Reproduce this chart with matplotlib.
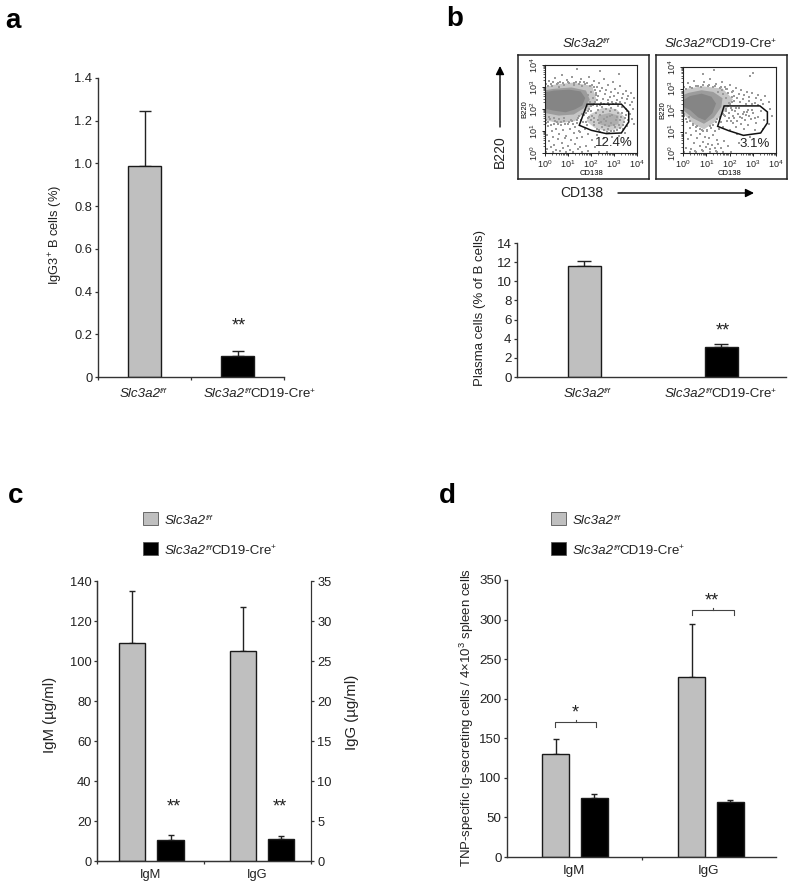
import matplotlib
matplotlib.use("Agg")
import matplotlib.pyplot as plt
from matplotlib.patches import Rectangle, Polygon, FancyArrowPatch
from matplotlib.ticker import NullFormatter, LogLocator

W, H = 800, 892
FONT = "Liberation Sans"
plt.rcParams.update({
    "font.family": FONT, "mathtext.fontset": "custom", "mathtext.rm": FONT,
    "mathtext.it": FONT + ":italic", "mathtext.bf": FONT + ":bold",
    "mathtext.default": "regular", "text.color": "#222222",
    "axes.edgecolor": "#333333", "xtick.color": "#333333", "ytick.color": "#333333",
    "xtick.labelcolor": "#222222", "ytick.labelcolor": "#222222",
})

GRAY, BLACK = "#bfbfbf", "#000000"
WT = [("Slc3a2", 1, "italic", 0), ("f/f", 0.62, "italic", 4)]
KO = WT + [("CD19-Cre", 1, "normal", 0), ("+", 0.62, "normal", 4)]

# Panel a
a_vals = [0.99, 0.10]
a_tops = [1.245, 0.12]
a_ticks = [0, 0.2, 0.4, 0.6, 0.8, 1.0, 1.2, 1.4]
a_ticklabels = ["0", "0.2", "0.4", "0.6", "0.8", "1.0", "1.2", "1.4"]
# Panel b
b_vals = [11.6, 3.1]
b_tops = [12.1, 3.4]
b_ticks = [0, 2, 4, 6, 8, 10, 12, 14]
# Panel c
c_igm_vals = [109, 10.5]
c_igm_tops = [135, 13]
c_igg_vals = [26.2, 2.7]
c_igg_tops = [31.7, 3.1]
c_left_ticks = [0, 20, 40, 60, 80, 100, 120, 140]
c_right_ticks = [0, 5, 10, 15, 20, 25, 30, 35]
# Panel d
d_igm_vals = [130, 74]
d_igm_tops = [149, 80]
d_igg_vals = [228, 70]
d_igg_tops = [295, 72]
d_ticks = [0, 50, 100, 150, 200, 250, 300, 350]
groups = ["IgM", "IgG"]

# Flow plots (log10 units)
wt_gate = [(1.83, 2.22), (3.32, 2.22), (3.64, 1.87), (3.64, 1.41), (3.32, 0.91), (2.67, 0.88), (2.02, 1.03), (1.49, 1.26)]
ko_gate = [(1.77, 2.19), (3.31, 2.19), (3.63, 1.91), (3.63, 1.40), (3.34, 0.93), (2.60, 0.82), (1.96, 1.04), (1.49, 1.24)]
wt_core = [(0.0, 2.02), (0.35, 1.93), (0.9, 1.85), (1.3, 1.98), (1.62, 2.16), (1.75, 2.5), (1.55, 2.8), (1.05, 2.88), (0.4, 2.84), (0.0, 2.76)]
wt_mid = [(0.0, 1.82), (0.6, 1.7), (1.25, 1.75), (1.68, 2.03), (1.95, 2.42), (1.78, 2.84), (1.15, 2.98), (0.4, 2.92), (0.0, 2.85)]
wt_halo = [(0.0, 1.5), (0.6, 1.35), (1.3, 1.45), (1.8, 1.9), (2.25, 2.4), (2.05, 3.05), (1.2, 3.2), (0.4, 3.1), (0.0, 3.0)]
wt_blob = [(1.95, 1.75), (2.5, 2.05), (3.1, 2.0), (3.5, 1.6), (3.35, 1.15), (2.7, 0.98), (2.15, 1.15), (1.8, 1.45)]
wt_blob2 = [(2.3, 1.7), (2.8, 1.82), (3.2, 1.7), (3.2, 1.32), (2.75, 1.18), (2.35, 1.32)]
ko_core = [(0.0, 2.45), (0.3, 2.65), (0.8, 2.76), (1.22, 2.62), (1.42, 2.3), (1.26, 1.85), (0.95, 1.52), (0.66, 1.65), (0.3, 2.0), (0.0, 2.15)]
ko_mid = [(0.0, 2.0), (0.42, 1.62), (0.9, 1.36), (1.32, 1.64), (1.65, 2.15), (1.7, 2.55), (1.3, 2.84), (0.8, 2.92), (0.25, 2.8), (0.0, 2.7)]
ko_halo = [(0.0, 1.85), (0.45, 1.35), (0.9, 1.1), (1.35, 1.42), (1.85, 2.0), (2.15, 2.5), (1.7, 3.0), (0.85, 3.1), (0.2, 3.0), (0.0, 2.88)]

wt_dots = [
 (0.05,3.12),(0.18,3.28),(0.31,3.05),(0.44,3.41),(0.52,3.14),(0.67,3.22),(0.74,3.56),(0.83,3.09),(0.96,3.31),(1.04,3.18),
 (1.17,3.44),(1.26,3.07),(1.33,3.25),(1.48,3.12),(1.55,3.38),(1.62,3.04),(1.71,3.21),(1.83,3.16),(1.92,3.47),(2.03,3.08),
 (2.11,3.29),(2.24,3.02),(2.36,3.17),(2.48,2.94),(2.55,3.36),(2.66,2.88),(2.73,3.07),(2.85,2.79),(2.94,3.22),(3.06,2.91),
 (3.17,2.72),(3.28,3.03),(3.41,2.66),(3.52,2.84),(3.63,2.57),(3.74,2.75),(3.86,2.49),(3.22,3.58),(2.41,3.72),(1.38,3.81),
 (2.22,2.73),(2.31,2.58),(2.39,2.81),(2.52,2.46),(2.61,2.67),(2.72,2.39),(2.81,2.55),(2.93,2.34),(3.02,2.61),(3.13,2.42),
 (3.24,2.31),(3.36,2.52),(3.47,2.29),(3.58,2.44),(3.69,2.18),(3.77,2.33),(3.83,2.02),(3.71,1.78),(3.79,1.55),(3.88,1.33),
 (2.08,2.18),(2.18,2.34),(2.27,2.12),(2.42,2.28),(2.58,2.24),(2.77,2.16),(2.97,2.21),(3.18,2.14),(3.33,2.09),(3.51,1.99),
 (1.92,1.64),(2.02,1.93),(2.13,1.57),(2.21,1.82),(2.33,1.36),(2.38,1.71),(2.47,1.18),(2.52,1.88),(2.61,1.29),(2.68,1.63),
 (2.74,1.11),(2.82,1.91),(2.88,1.38),(2.93,1.72),(3.04,1.16),(3.09,1.52),(3.16,1.84),(3.23,1.27),(3.31,1.62),(3.38,1.07),
 (3.44,1.43),(3.52,1.74),(3.57,1.21),(1.66,1.42),(1.72,1.11),(1.81,1.27),(2.24,1.08),(2.41,0.96),(2.78,0.92),(3.02,0.98),
 (3.21,0.79),(2.92,0.72),(2.58,0.66),(2.26,0.81),(2.03,0.61),(1.86,0.86),(1.63,0.73),(1.47,1.02),(3.46,0.91),(3.63,0.68),
 (0.04,1.48),(0.13,1.22),(0.22,1.53),(0.29,0.98),(0.37,1.34),(0.46,1.11),(0.51,1.42),(0.62,0.87),(0.69,1.26),(0.77,1.03),
 (0.84,1.47),(0.93,0.79),(1.01,1.31),(1.08,1.09),(1.16,1.44),(1.24,0.92),(1.31,1.19),(1.41,1.37),(1.53,0.96),(1.58,1.52),
 (0.09,0.82),(0.19,0.53),(0.34,0.71),(0.41,0.38),(0.57,0.62),(0.72,0.46),(0.88,0.69),(0.98,0.33),(1.13,0.58),(1.29,0.41),
 (1.37,0.67),(1.51,0.28),(0.08,0.19),(0.27,0.26),(0.48,0.14),(0.79,0.21),(1.07,0.12),(1.44,0.17),(1.77,0.34),(2.16,0.29),
 (0.06,0.06),(0.33,0.05),(0.64,0.07),(0.91,0.05),(1.22,0.06),(1.61,0.05),(1.89,0.07),(2.34,0.05),(2.71,0.06),
 (1.84,2.13),(1.97,2.31),(1.88,2.62),(2.01,2.79),(2.09,2.51),(2.17,2.88),(1.79,1.83),(1.69,1.71),(1.93,2.02),(2.06,1.68),
 (0.03,1.38),(0.11,1.41),(0.27,1.29),(0.43,1.47),(0.58,1.31),(0.71,1.43),(0.89,1.34),(1.06,1.4),(1.23,1.31),(1.39,1.49),
 (1.49,1.66),(1.61,1.78),(1.73,1.96),(1.86,1.92),(2.02,2.12),(2.13,2.22),(2.28,2.41),(2.2,2.62),(2.12,2.98),(1.96,3.04),
 (1.74,3.12),(1.51,3.22),(1.27,3.19),(1.02,3.23),(0.79,3.2),(0.55,3.17),(0.24,3.14),(0.12,3.04),(0.33,3.21),(0.63,3.02),
 (2.14,1.26),(2.29,1.49),(2.44,1.42),(2.56,1.56),(2.67,1.44),(2.79,1.22),(2.84,1.7),(2.99,1.29),(3.11,1.63),(3.27,1.48),
 (3.36,1.82),(3.41,1.29),(3.48,1.57),(3.55,1.92),(3.61,1.49),(2.31,1.96),(2.49,2.08),(2.64,2.02),(2.88,2.06),(3.06,1.96),
 (2.12,1.41),(1.99,1.49),(1.87,1.57),(1.77,1.41),(2.36,1.04),(2.55,1.06),(2.69,0.97),(2.86,1.01),(3.13,1.03),(3.27,1.14),
 (1.43,1.58),(1.12,1.51),(0.82,1.58),(0.61,1.54),(0.38,1.57),(0.17,1.63),(0.02,1.71),(2.37,2.17),(2.73,2.29),(3.09,2.27),
]
ko_dots = [
 (0.06,3.08),(0.21,3.24),(0.38,3.02),(0.49,3.37),(0.63,3.13),(0.78,3.05),(0.92,3.28),(1.07,3.11),(1.18,3.42),(1.31,3.07),
 (1.44,3.19),(1.57,3.03),(1.68,3.31),(1.79,3.09),(1.91,2.96),(2.04,3.18),(2.16,2.87),(2.27,3.04),(2.39,2.74),(2.51,2.92),
 (2.63,2.68),(2.74,2.83),(2.86,2.61),(2.97,2.79),(3.12,2.54),(3.24,2.72),(3.37,2.47),(3.52,2.63),(3.68,2.38),(3.03,3.71),
 (2.88,3.56),(1.33,3.84),(0.86,3.66),(2.09,2.61),(2.21,2.44),(2.33,2.57),(2.46,2.36),(2.58,2.49),(2.71,2.28),(2.83,2.41),
 (2.95,2.26),(3.08,2.33),(3.21,2.24),(3.44,2.29),(3.76,2.06),(3.81,1.74),(3.72,1.33),
 (1.85,2.03),(1.97,1.86),(2.05,2.11),(2.13,1.72),(2.24,1.96),(2.36,1.81),(2.42,2.07),(2.53,1.64),(2.61,1.93),(2.72,1.77),
 (2.81,2.02),(2.92,1.58),(3.01,1.84),(3.14,1.41),(3.23,1.69),(3.36,1.94),(3.47,1.52),(2.17,1.38),(2.29,1.21),(2.48,1.33),
 (2.64,1.13),(2.79,1.28),(1.88,1.47),(1.73,1.22),(1.64,1.44),(2.02,1.09),(3.09,1.07),(3.42,1.11),(2.34,0.87),(2.88,0.74),
 (0.05,1.71),(0.16,1.42),(0.25,1.68),(0.32,1.18),(0.41,1.36),(0.54,1.02),(0.61,1.24),(0.73,0.87),(0.82,1.09),(0.96,0.76),
 (1.03,1.02),(1.12,0.68),(1.21,1.17),(1.29,0.84),(1.38,1.03),(1.46,0.59),(1.53,1.13),(0.12,0.91),(0.23,0.64),(0.36,0.83),
 (0.47,0.47),(0.59,0.71),(0.71,0.33),(0.88,0.52),(0.99,0.27),(1.09,0.44),(1.17,0.18),(1.26,0.37),(1.36,0.24),(1.52,0.41),
 (1.63,0.21),(1.77,0.58),(0.14,0.24),(0.33,0.17),(0.52,0.11),(0.81,0.13),(1.42,0.09),(1.93,0.31),(2.41,0.46),
 (0.03,0.05),(0.28,0.06),(0.57,0.05),(0.86,0.07),(1.14,0.05),(1.45,0.06),(1.72,0.05),(2.08,0.06),(0.01,0.36),(0.01,0.74),
 (1.72,2.74),(1.84,2.58),(1.95,2.77),(1.67,2.91),(1.49,2.86),(1.99,2.32),(1.76,1.78),(1.61,1.69),(1.47,1.57),(1.92,2.18),
 (0.03,1.82),(0.12,1.58),(0.28,1.49),(0.44,1.31),(0.57,1.22),(0.71,1.12),(0.88,1.03),(1.02,1.09),(1.14,1.26),(1.27,1.31),
 (1.41,1.44),(1.57,1.62),(1.71,1.83),(1.87,1.94),(2.01,2.26),(2.12,2.36),(2.21,2.63),(2.09,2.82),(1.87,2.96),(1.62,3.06),
 (1.37,3.13),(1.12,3.16),(0.84,3.15),(0.56,3.11),(0.29,3.06),(0.11,2.99),(1.98,1.62),(2.08,1.51),(2.19,1.62),(2.31,1.49),
 (2.44,1.67),(2.57,1.81),(2.68,1.52),(2.77,1.91),(2.85,1.71),(2.97,2.01),(3.09,1.62),(1.82,1.72),(2.12,1.98),(2.27,2.09),
]


def px_axes(left, top, right, bottom, **kw):
    return fig.add_axes([left / W, 1 - bottom / H, (right - left) / W, (bottom - top) / H], **kw)


def ftext(x, y, s, **kw):
    kw.setdefault("ha", "center")
    kw.setdefault("va", "center")
    return fig.text(x / W, 1 - y / H, s, **kw)


def rich(x, baseline, parts, size=9.6, ha="center"):
    """Lay out text runs left to right with a small raised superscript."""
    renderer = fig.canvas.get_renderer()
    arts = []
    for s, scale, style, rise in parts:
        t = fig.text(0, 1 - (baseline - rise) / H, s, fontsize=size * scale, fontstyle=style,
                     ha="left", va="baseline", color="#222222")
        arts.append(t)
    widths = [a.get_window_extent(renderer).width - 0.8 for a in arts]
    cur = x - sum(widths) / 2 if ha == "center" else x
    for a, w in zip(arts, widths):
        a.set_x(cur / W)
        cur += w


def style_bar_axes(ax, yticks, ylim, ylabels=None, labels=(), fs=9.3, xticks=(-0.5, 0.5, 1.5)):
    for s in ("top", "right"):
        ax.spines[s].set_visible(False)
    for s in ("left", "bottom"):
        ax.spines[s].set_linewidth(1.0)
    ax.set_xlim(-0.5, 1.5)
    ax.set_ylim(*ylim)
    ax.set_yticks(yticks)
    ax.set_yticklabels(ylabels if ylabels else [str(t) for t in yticks], fontsize=fs)
    ax.tick_params(axis="y", length=2.5, width=0.9, pad=1.5)
    ax.set_xticks(list(xticks))
    ax.set_xticklabels([])
    ax.tick_params(axis="x", which="major", length=2.5, width=0.9)
    if labels:
        ax.set_xticks([0, 1], minor=True)
        ax.set_xticklabels(labels, minor=True, fontsize=fs)
        ax.tick_params(axis="x", which="minor", length=0, pad=6)


def bars(ax, xs, vals, tops, width, colors, cap=0.03):
    for x, v, t, c in zip(xs, vals, tops, colors):
        ax.bar(x, v, width=width, color=c, edgecolor="#1a1a1a", linewidth=1.0, zorder=2)
        ax.errorbar(x, v, yerr=[[0], [t - v]], ecolor="#222222", elinewidth=1.0, capsize=cap, capthick=1.0, zorder=1)


fig = plt.figure(figsize=(W / 100, H / 100), dpi=100)

# --- a ---
ax = px_axes(98, 78, 284, 377)
style_bar_axes(ax, a_ticks, (0, 1.4), a_ticklabels)
bars(ax, [0, 1], a_vals, a_tops, 0.345, [GRAY, BLACK], cap=4)
ftext(56, 235, "IgG3$^{+}$ B cells (%)", rotation=90, fontsize=9.3)
ftext(238.5, 326, "**", fontsize=13)
rich(143, 397, WT)
rich(259, 397, KO)

# --- b ---
ax = px_axes(517, 243, 786, 377)
style_bar_axes(ax, b_ticks, (0, 14), None, fs=9.6, xticks=())
bars(ax, [0, 1.02], b_vals, b_tops, 0.245, [GRAY, BLACK], cap=5)
ftext(480, 308, "Plasma cells (% of B cells)", rotation=90, fontsize=9.5)
ftext(723, 331, "**", fontsize=13)
rich(587, 397, WT)
rich(720, 397, KO)

# --- c ---
ax = px_axes(97, 581, 311, 861)
style_bar_axes(ax, c_left_ticks, (0, 140), None, groups)
bars(ax, [-0.173, 0.187], c_igm_vals, c_igm_tops, 0.245, [GRAY, BLACK], cap=2)
ax.spines["right"].set_visible(True)
ax2 = ax.twinx()
ax2.set_ylim(0, 35)
ax2.set_yticks(c_right_ticks)
ax2.set_yticklabels([str(t) for t in c_right_ticks], fontsize=9.3)
ax2.tick_params(axis="y", length=2.5, width=0.9, pad=2)
ax2.spines["top"].set_visible(False)
ax2.set_xlim(-0.5, 1.5)
bars(ax2, [0.864, 1.22], c_igg_vals, c_igg_tops, 0.245, [GRAY, BLACK], cap=2)
ftext(50, 715, "IgM (µg/ml)", rotation=90, fontsize=10.8)
ftext(352, 712, "IgG (µg/ml)", rotation=90, fontsize=10.8)
ftext(174, 807, "**", fontsize=13)
ftext(280, 807, "**", fontsize=13)

# --- d ---
ax = px_axes(507, 580, 776, 857)
style_bar_axes(ax, d_ticks, (0, 350), None, groups, fs=9.6, xticks=(0.5,))
bars(ax, [-0.138, 0.149], d_igm_vals, d_igm_tops, 0.2, [GRAY, BLACK], cap=2.5)
bars(ax, [0.874, 1.16], d_igg_vals, d_igg_tops, 0.2, [GRAY, BLACK], cap=2.5)
for xl, xr, yb in [(-0.142, 0.163, 164), (0.875, 1.187, 306)]:
    ax.plot([xl, xl, xr, xr], [yb, yb + 6, yb + 6, yb], color="#444444", lw=0.8, clip_on=False)
    ax.plot([(xl + xr) / 2] * 2, [yb + 6, yb + 8.5], color="#444444", lw=0.8)
ftext(467, 717, r"TNP-specific Ig-secreting cells / 4×10$^{3}$ spleen cells", rotation=90, fontsize=9.5)
ftext(575, 713, "*", fontsize=13)
ftext(712, 601, "**", fontsize=13)

# --- legends ---
for sx, tx in [(143, 165), (551, 573)]:
    for (top, bot, col, lab) in [(512, 525, GRAY, WT), (542, 555, BLACK, KO)]:
        fig.patches.append(Rectangle((sx / W, 1 - bot / H), 15 / W, (bot - top) / H, transform=fig.transFigure,
                                     facecolor=col, edgecolor="#555555", linewidth=0.6))
        rich(tx, (top + bot) / 2 + 5, lab, ha="left")

# --- panel letters ---
for x, y, s in [(5, 28, "a"), (446, 26, "b"), (8, 503, "c"), (439, 503, "d")]:
    ftext(x, y, s, ha="left", va="baseline", fontsize=20, fontweight="bold", color="#000000")


# --- flow plots ---
def flow(frame, box, gate, polys, dots, pct, pct_xy, title, title_x):
    fr = px_axes(*frame)
    fr.set_xticks([]); fr.set_yticks([])
    fr.patch.set_visible(False)
    for s in fr.spines.values():
        s.set_linewidth(1.1); s.set_color("#222222")
    a = px_axes(*box)
    a.set_xscale("log"); a.set_yscale("log")
    a.set_xlim(1, 1e4); a.set_ylim(1, 1e4)
    for s in a.spines.values():
        s.set_linewidth(0.8); s.set_color("#222222")
    for poly, col in polys:
        a.add_patch(Polygon([(10 ** x, 10 ** y) for x, y in poly], closed=True, facecolor=col, edgecolor="none", zorder=1))
    a.scatter([10 ** p[0] for p in dots], [10 ** p[1] for p in dots], s=1.1, marker="s", color="#9a9a9a", linewidths=0, zorder=2)
    a.add_patch(Polygon([(10 ** x, 10 ** y) for x, y in gate], closed=True, facecolor="none", edgecolor="#111111", linewidth=1.1, zorder=3))
    for axis in (a.xaxis, a.yaxis):
        axis.set_major_locator(LogLocator(base=10, numticks=6))
        axis.set_minor_locator(LogLocator(base=10, subs=range(2, 10), numticks=6))
        axis.set_minor_formatter(NullFormatter())
    a.tick_params(which="major", length=2.5, width=0.7, labelsize=6.5, pad=1, color="#222222")
    a.tick_params(which="minor", length=1.3, width=0.5, color="#222222")
    plt.setp(a.get_yticklabels(), rotation=90, va="center")
    a.set_xlabel("CD138", fontsize=5.5, labelpad=0)
    a.set_ylabel("B220", fontsize=5.5, labelpad=0)
    ftext(pct_xy[0], pct_xy[1], pct, fontsize=9.5)
    rich(title_x, 47, title)


flow((518, 55, 649, 179), (545, 65, 637, 153), wt_gate,
     [(wt_halo, "#c6c6c6"), (wt_mid, "#9c9c9c"), (wt_blob, "#cdcdcd"), (wt_blob2, "#aeaeae"), (wt_core, "#858585")],
     wt_dots, "12.4%", (614, 143), WT, 586)
flow((656, 55, 787, 179), (683, 67, 776, 153), ko_gate,
     [(ko_halo, "#c6c6c6"), (ko_mid, "#9c9c9c"), (ko_core, "#858585")],
     ko_dots, "3.1%", (755, 144), KO, 720)

ftext(500, 152, "B220", rotation=90, fontsize=10)
ftext(582, 193, "CD138", fontsize=10)
arrow_style = dict(arrowstyle="-|>,head_width=0.25,head_length=0.5", color="#000000", lw=1.0, shrinkA=0, shrinkB=0)
fig.add_artist(FancyArrowPatch((500 / W, 1 - 127 / H), (500 / W, 1 - 66 / H), transform=fig.transFigure, mutation_scale=10, **arrow_style))
fig.add_artist(FancyArrowPatch((618 / W, 1 - 193 / H), (754 / W, 1 - 193 / H), transform=fig.transFigure, mutation_scale=10, **arrow_style))

fig.savefig("out.png", dpi=100)
